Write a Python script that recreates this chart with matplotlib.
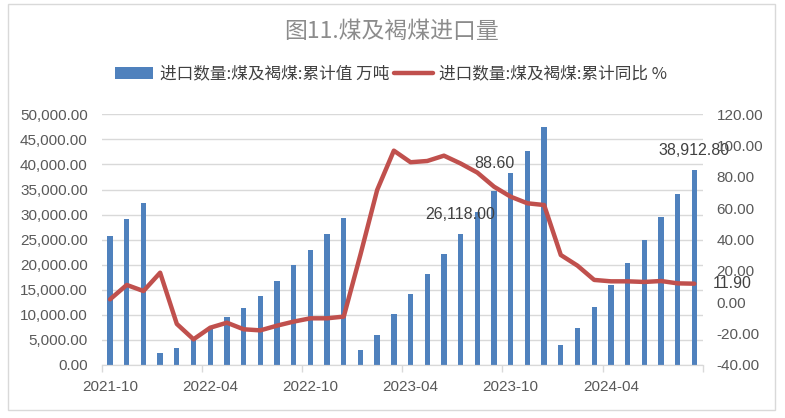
import numpy as np
import matplotlib
matplotlib.use("Agg")
from matplotlib import pyplot as plt
from matplotlib.patches import Rectangle

plt.rcParams['font.family'] = ['Noto Sans CJK SC', 'DejaVu Sans']

months = ['2021-10', '2021-11', '2021-12', '2022-01', '2022-02', '2022-03',
          '2022-04', '2022-05', '2022-06', '2022-07', '2022-08', '2022-09',
          '2022-10', '2022-11', '2022-12', '2023-01', '2023-02', '2023-03',
          '2023-04', '2023-05', '2023-06', '2023-07', '2023-08', '2023-09',
          '2023-10', '2023-11', '2023-12', '2024-01', '2024-02', '2024-03',
          '2024-04', '2024-05', '2024-06', '2024-07', '2024-08', '2024-09']

# cumulative import volume, 10k tonnes
volume = [25730, 29120, 32310, 2390, 3390, 4960,
          7310, 9570, 11370, 13760, 16750, 19950,
          22940, 26130, 29320, 2990, 5980, 10170,
          14160, 18150, 22140, 26118.0, 30520, 34710,
          38300, 42690, 47470, 3990, 7380, 11570,
          15960, 20350, 24930, 29520, 34110, 38912.8]

# cumulative yoy, %
yoy = [1.9, 11.1, 7.2, 18.9, -13.8, -23.6,
       -16.2, -13.0, -17.2, -17.9, -14.9, -12.3,
       -10.2, -10.2, -9.1, 30.5, 71.7, 96.8,
       89.4, 90.2, 93.6, 88.6, 82.8, 73.8,
       67.4, 63.2, 62.1, 30.2, 23.4, 14.3,
       13.4, 13.4, 13.0, 13.6, 12.1, 11.9]

bar_name = '进口数量:煤及褐煤:累计值 万吨'
line_name = '进口数量:煤及褐煤:累计同比 %'
title = '图11.煤及褐煤进口量'

tick_color = '#595959'
grid_color = '#d9d9d9'
num_font = 'Liberation Sans'

fig = plt.figure(figsize=(7.85, 4.18), dpi=100)
ax = fig.add_axes([101.7/785, 53/418, 601/785, 250.7/418])
ax2 = ax.twinx()

x = np.arange(len(months))
bars = ax.bar(x, volume, width=0.32, color='#4f81bd', zorder=2, label=bar_name)
line, = ax2.plot(x, yoy, color='#c0504d', lw=3.2, solid_joinstyle='round',
                 solid_capstyle='round', zorder=3, label=line_name)

ax.set_xlim(-0.5, len(months) - 0.5)
ax.set_ylim(0, 50000)
ax.set_yticks(np.arange(0, 50001, 5000))
ax.set_yticklabels([f'{v:,.2f}' for v in np.arange(0, 50001, 5000)],
                   fontfamily=num_font, fontsize=11, color=tick_color)
ax2.set_ylim(-40, 120)
ax2.set_yticks(np.arange(-40, 121, 20))
ax2.set_yticklabels([f'{v:.2f}' for v in np.arange(-40, 121, 20)],
                    fontfamily=num_font, fontsize=11, color=tick_color)

ax.grid(axis='y', color=grid_color, lw=1, zorder=0)
ax.set_axisbelow(True)
ax.set_xticks(x[::6])
ax.set_xticklabels(months[::6], fontfamily=num_font, fontsize=11, color=tick_color)
ax.set_xticks(np.arange(-0.5, len(months), 6), minor=True)
ax.tick_params(axis='x', which='major', length=0, pad=11)
ax.tick_params(axis='x', which='minor', length=5, color=grid_color, width=1)
ax.tick_params(axis='y', length=0, pad=10)
ax2.tick_params(axis='y', length=0, pad=10)

for a in (ax, ax2):
    for s in ('top', 'left', 'right'):
        a.spines[s].set_visible(False)
    a.spines['bottom'].set_color(grid_color)

# data labels
lab_kw = dict(fontfamily=num_font, fontsize=11.5, color='#404040')
ax.annotate('26,118.00', (21, volume[21]), xytext=(0, 14), textcoords='offset points',
            ha='center', va='center', **lab_kw)
ax.annotate('38,912.80', (35, volume[35]), xytext=(0, 14), textcoords='offset points',
            ha='center', va='center', **lab_kw)
ax2.text(23, 88.6, '88.60', ha='center', va='center', **lab_kw)
ax2.annotate('11.90', (35, yoy[35]), xytext=(13, 0), textcoords='offset points',
             ha='left', va='center', **lab_kw)

fig.text(392/785, 1 - 31/418, title, ha='center', va='center', fontsize=16.5,
         color='#8c8c8c', fontweight='light')
fig.legend(handles=[bars, line], labels=[bar_name, line_name], ncol=2,
           loc='center', bbox_to_anchor=(391/785, 1 - 74/418), frameon=False,
           fontsize=12, labelcolor='#404040', handlelength=2.3,
           handletextpad=0.4, columnspacing=0.3)

fig.patches.append(Rectangle((8/785, 8/418), 767/785, 406/418, transform=fig.transFigure,
                             fill=False, edgecolor=grid_color, lw=1))

fig.savefig('out.png', dpi=100)
